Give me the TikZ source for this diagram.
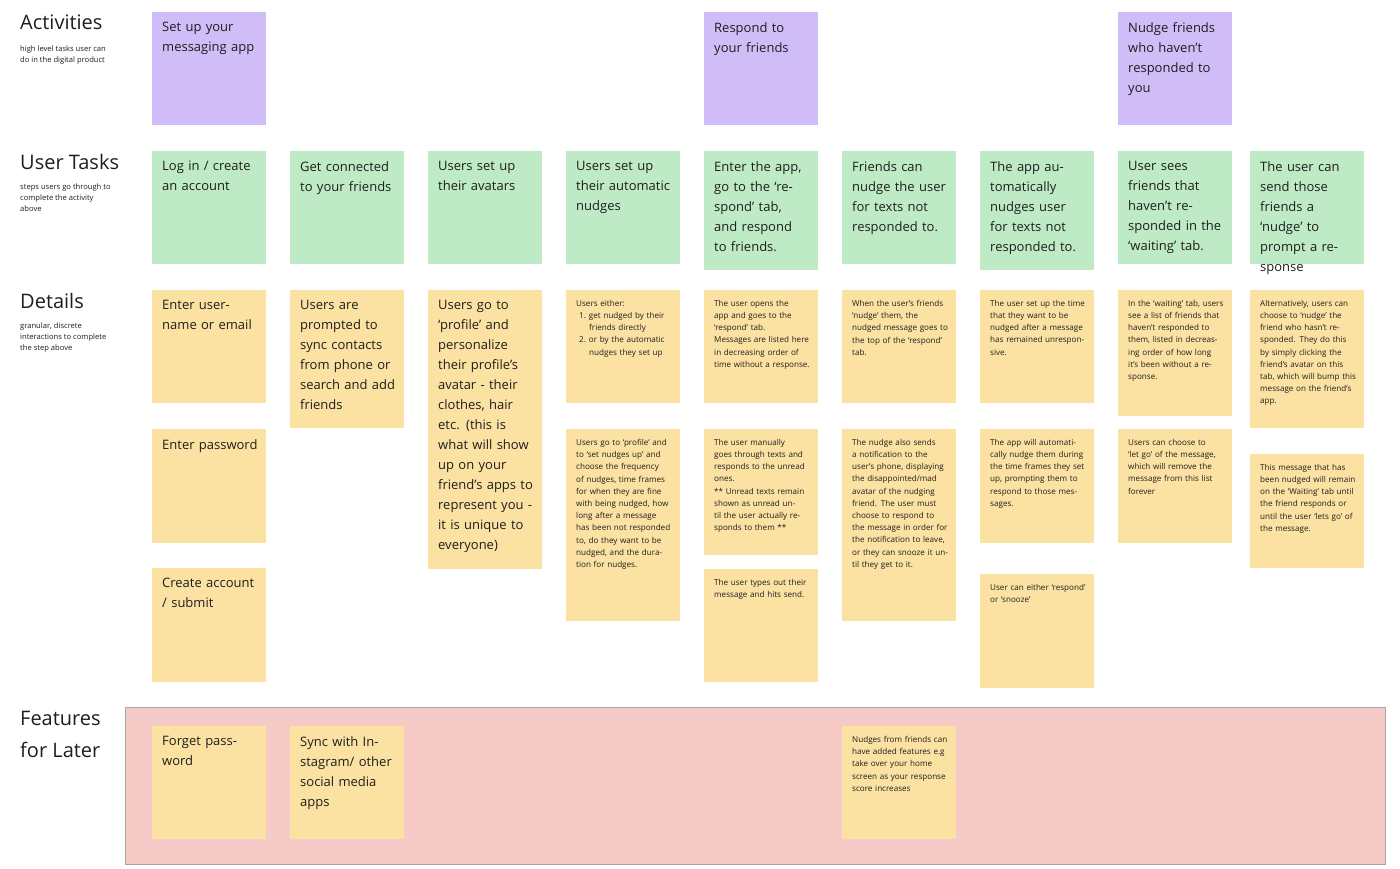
\documentclass[tikz,border=0pt]{standalone}
\usepackage{fontspec}
\setmainfont{Open Sans}
\begin{document}
\definecolor{purp}{HTML}{D0BDF8}
\definecolor{grn}{HTML}{BEEBC5}
\definecolor{yel}{HTML}{FBE2A2}
\definecolor{pnk}{HTML}{F5CAC7}
\definecolor{txt}{HTML}{1E1E1E}
\begin{tikzpicture}[x=1pt,y=-1pt,
 big/.style={font=\fontsize{13}{20}\selectfont,text=txt,align=left},
 sm/.style={font=\fontsize{8.1}{12.2}\selectfont,text=txt,align=left},
 head/.style={anchor=north west,font=\fontsize{20}{24}\selectfont,text=txt,inner sep=0pt},
 sub/.style={anchor=north west,font=\fontsize{7.6}{11}\selectfont,text=txt,inner sep=0pt,align=left}]
\useasboundingbox (0,0) rectangle (1400,868);
\fill[white] (0,0) rectangle (1400,868);
\newcommand\card[7]{%
 \fill[#5] (#2,#3) rectangle ++(114,#4);
 \node[#6,anchor=north west,inner sep=0pt,text width=96pt] (#1) at (#2+10,#3+10) {\hyphenpenalty=10000\relax\exhyphenpenalty=10000\relax #7};}
% Headings
\node[head] (h1) at (20,15) {Activities};
\node[sub] (s1) at (20,46) {high level tasks user can\\do in the digital product};
\node[head] (h2) at (20,154) {User Tasks};
\node[sub] (s2) at (20,184) {steps users go through to\\complete the activity\\above};
\node[head] (h3) at (20,293) {Details};
\node[sub] (s3) at (20,323) {granular, discrete\\interactions to complete\\the step above};
% Features band
\fill[pnk] (125,707) rectangle (1385,864);
\draw[gray!70,line width=0.8pt] (125,707) rectangle (1385,864);
\node[head,align=left,font=\fontsize{20}{32}\selectfont] (h4) at (20,711) {Features\\for Later};
% Activities
\card{a1}{152}{12}{113}{purp}{big}{Set up your messaging app}
\card{a2}{704}{12}{113}{purp}{big}{Respond to your friends}
\card{a3}{1118}{12}{113}{purp}{big}{Nudge friends who haven't responded to you}
% Tasks
\card{t1}{152}{151}{113}{grn}{big}{Log in / create an account}
\card{t2}{290}{151}{113}{grn}{big}{Get connected to your friends}
\card{t3}{428}{151}{113}{grn}{big}{Users set up their avatars}
\card{t4}{566}{151}{113}{grn}{big}{Users set up their automatic nudges}
\card{t5}{704}{151}{119}{grn}{big}{Enter the app, go to the ‘respond’ tab, and respond to friends.}
\card{t6}{842}{151}{113}{grn}{big}{Friends can nudge the user for texts not responded to.}
\card{t7}{980}{151}{119}{grn}{big}{The app automatically nudges user for texts not responded to.}
\card{t8}{1118}{151}{113}{grn}{big}{User sees friends that haven't responded in the ‘waiting’ tab.}
\card{t9}{1250}{151}{113}{grn}{big}{The user can send those friends a ‘nudge’ to prompt a response}
% Details
\card{d11}{152}{290}{113}{yel}{big}{Enter username or email}
\card{d12}{152}{429}{114}{yel}{big}{Enter password}
\card{d13}{152}{568}{114}{yel}{big}{Create account / submit}
\card{d21}{290}{290}{138}{yel}{big}{Users are prompted to sync contacts from phone or search and add friends}
\card{d31}{428}{290}{279}{yel}{big}{Users go to ‘profile’ and personalize their profile’s avatar - their clothes, hair etc. (this is what will show up on your friend’s apps to represent you - it is unique to everyone)}
\card{d41}{566}{290}{113}{yel}{sm}{Users either:\\
\hspace*{3pt}1.\hspace{3pt}get nudged by their\\\hspace*{13pt}friends directly\\
\hspace*{3pt}2.\hspace{3pt}or by the automatic\\\hspace*{13pt}nudges they set up}
\card{d42}{566}{429}{192}{yel}{sm}{Users go to ‘profile’ and to ‘set nudges up’ and choose the frequency of nudges, time frames for when they are fine with being nudged, how long after a message has been not responded to, do they want to be nudged, and the duration for nudges.}
\card{d51}{704}{290}{113}{yel}{sm}{The user opens the app and goes to the ‘respond’ tab.\\{}Messages are listed here in decreasing order of time without a response.}
\card{d52}{704}{429}{126}{yel}{sm}{The user manually goes through texts and responds to the unread ones.\\{}** Unread texts remain shown as unread until the user actually responds to them **}
\card{d53}{704}{569}{113}{yel}{sm}{The user types out their message and hits send.}
\card{d61}{842}{290}{113}{yel}{sm}{When the user’s friends ‘nudge’ them, the nudged message goes to the top of the ‘respond’ tab.}
\card{d62}{842}{429}{192}{yel}{sm}{The nudge also sends a notification to the user’s phone, displaying the disappointed/mad avatar of the nudging friend. The user must choose to respond to the message in order for the notification to leave, or they can snooze it until they get to it.}
\card{d71}{980}{290}{113}{yel}{sm}{The user set up the time that they want to be nudged after a message has remained unresponsive.}
\card{d72}{980}{429}{114}{yel}{sm}{The app will automatically nudge them during the time frames they set up, prompting them to respond to those messages.}
\card{d73}{980}{574}{114}{yel}{sm}{User can either ‘respond’ or ‘snooze’}
\card{d81}{1118}{290}{126}{yel}{sm}{In the ‘waiting’ tab, users see a list of friends that haven’t responded to them, listed in decreasing order of how long it’s been without a response.}
\card{d82}{1118}{429}{114}{yel}{sm}{Users can choose to ‘let go’ of the message, which will remove the message from this list forever}
\card{d91}{1250}{290}{138}{yel}{sm}{Alternatively, users can choose to ‘nudge’ the friend who hasn’t responded. They do this by simply clicking the friend’s avatar on this tab, which will bump this message on the friend’s app.}
\card{d92}{1250}{454}{114}{yel}{sm}{This message that has been nudged will remain on the ‘Waiting’ tab until the friend responds or until the user ‘lets go’ of the message.}
% Features
\card{f1}{152}{726}{113}{yel}{big}{Forget password}
\card{f2}{290}{726}{113}{yel}{big}{Sync with Instagram/ other social media apps}
\card{f3}{842}{726}{113}{yel}{sm}{Nudges from friends can have added features e.g take over your home screen as your response score increases}
\end{tikzpicture}
\end{document}
